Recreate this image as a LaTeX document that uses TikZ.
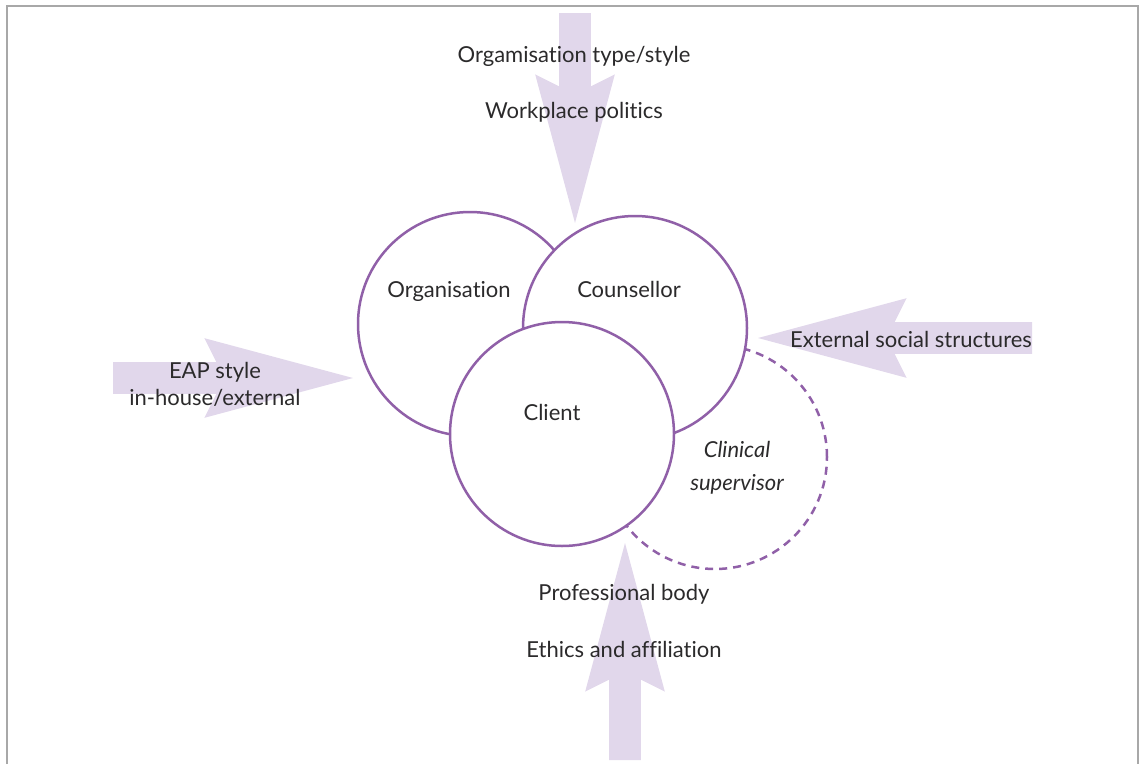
\documentclass[tikz,border=0pt]{standalone}
\usepackage{fontspec}
\setmainfont{Lato}[Ligatures={NoCommon,NoRequired}]
\usetikzlibrary{shapes.arrows}

\definecolor{lilac}{HTML}{E1D7EB}
\definecolor{plum}{HTML}{9060A8}
\definecolor{ink}{HTML}{2B2A2B}
\definecolor{framegrey}{HTML}{A8A8A8}

\begin{document}
\begin{tikzpicture}[x=1pt,y=-1pt,semithick,every node/.style={inner sep=0,outer sep=0,text=ink,font=\fontsize{22}{26}\selectfont},
  ring/.style={circle,draw=plum,line width=2.5pt,fill=white,minimum size=224pt},
  fat/.style={single arrow,fill=lilac,text height=31pt,text depth=0pt,single arrow head extend=24pt,single arrow tip angle=30,single arrow head indent=12pt,anchor=tip},
  lbl/.style={text height=15pt,text depth=5pt}]
\useasboundingbox (0,0) rectangle (1140,764);
\draw[framegrey,line width=2pt] (7,764) -- (7,6) -- (1138,6) -- (1138,764);
% the four pressures
\node[fat,rotate=-90,minimum height=210pt] (top) at (575,223) {};
\node[fat,rotate=90,minimum height=217pt] (bot) at (625,543) {};
\node[fat,minimum height=240pt] (left) at (353,378) {};
\node[fat,rotate=180,minimum height=274pt] (right) at (758,338) {};
% circles, supervisor at the back
\node[ring,fill=none,dash pattern=on 8pt off 6pt] (sup) at (715,457) {};
\node[ring] (org) at (470,324) {};
\node[ring] (couns) at (635,328) {};
\node[ring] (client) at (562,434) {};
\node[lbl] (orgtxt) at (449,292) {Organisation};
\node[lbl] (counstxt) at (629,292) {Counsellor};
\node[lbl] (clienttxt) at (552,415) {Client};
\node[lbl,font=\fontsize{22}{26}\selectfont\itshape] (sup1) at (737,452) {Clinical};
\node[lbl,font=\fontsize{22}{26}\selectfont\itshape] (sup2) at (737,485) {supervisor};
% labels on the arrows
\node[lbl] (top1) at (574,57) {Orgamisation type/style};
\node[lbl] (top2) at (574,113) {Workplace politics};
\node[lbl] (bot1) at (624,595) {Professional body};
\node[lbl] (bot2) at (624,652) {Ethics and affiliation};
\node[lbl] (left1) at (215,373) {EAP style};
\node[lbl] (left2) at (215,400) {in-house/external};
\node[lbl] (right1) at (911,342) {External social structures};
\end{tikzpicture}
\end{document}
